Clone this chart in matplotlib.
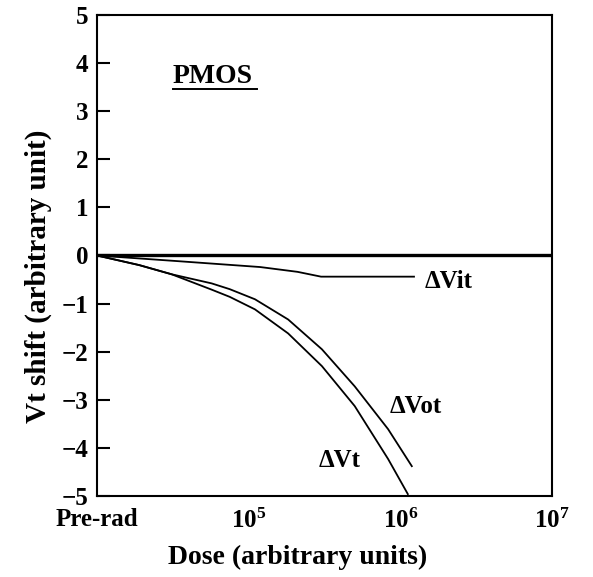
import matplotlib
matplotlib.use("Agg")
import matplotlib.pyplot as plt
import numpy as np

plt.rcParams['font.family'] = ['Liberation Serif', 'DejaVu Serif']
plt.rcParams['font.weight'] = 'bold'
plt.rcParams['mathtext.fontset'] = 'custom'
plt.rcParams['mathtext.rm'] = 'Liberation Serif:bold'
plt.rcParams['mathtext.bf'] = 'Liberation Serif:bold'

# ---- data ----
dose_vot = [1e4, 1.9e4, 3.1e4, 5.7e4, 7.5e4, 1.1e5, 1.82e5, 3.04e5, 5.0e5, 8.3e5, 1.19e6]
dvot = [0, -0.20, -0.39, -0.58, -0.70, -0.91, -1.33, -1.95, -2.72, -3.61, -4.38]

dose_vt = [1e4, 1.9e4, 3.1e4, 5.7e4, 7.5e4, 1.1e5, 1.82e5, 3.04e5, 5.0e5, 8.3e5, 1.12e6]
dvt = [0, -0.20, -0.39, -0.71, -0.86, -1.12, -1.62, -2.30, -3.13, -4.23, -4.96]

dose_vit = [1e4, 3.5e4, 1.19e5, 2.1e5, 3.0e5, 1.23e6]
dvit = [0, -0.12, -0.24, -0.34, -0.44, -0.44]

xticks = [1e4, 1e5, 1e6, 1e7]
xticklabels = ['Pre-rad', r'$\mathbf{10^{5}}$', r'$\mathbf{10^{6}}$', r'$\mathbf{10^{7}}$']
yticks = [5, 4, 3, 2, 1, 0, -1, -2, -3, -4, -5]

fig = plt.figure(figsize=(5.93, 5.77), dpi=100)
ax = fig.add_axes([0.1636, 0.1404, 0.7673, 0.8336])

ax.axhline(0, color='black', lw=2.4)
ax.plot(dose_vot, dvot, color='black', lw=1.3)
ax.plot(dose_vt, dvt, color='black', lw=1.3)
ax.plot(dose_vit, dvit, color='black', lw=1.3)

ax.set_xscale('log')
ax.set_xlim(1e4, 1e7)
ax.set_ylim(-5, 5)

ax.set_xticks(xticks)
ax.set_xticklabels(xticklabels, fontsize=18)
ax.xaxis.set_minor_locator(matplotlib.ticker.NullLocator())
ax.tick_params(axis='x', length=0, pad=9)
ax.set_yticks(yticks)
ax.set_yticklabels([str(v).replace('-', '\u2212') for v in yticks], fontsize=18)
ax.tick_params(axis='y', direction='in', length=9.5, width=1.5, pad=6)

for s in ax.spines.values():
    s.set_linewidth(1.5)

ax.set_xlabel('Dose (arbitrary units)', fontsize=20, fontweight='bold')
ax.xaxis.set_label_coords(0.44, -0.102)
ax.set_ylabel('Vt shift (arbitrary unit)', fontsize=21, fontweight='bold')
ax.yaxis.set_label_coords(-0.10, 0.457)

ax.text(1.45e6, -0.54, '\u0394Vit', fontsize=18, va='center', ha='left')
ax.text(8.5e5, -3.13, '\u0394Vot', fontsize=18, va='center', ha='left')
ax.text(2.87e5, -4.27, '\u0394Vt', fontsize=18, va='center', ha='left')

ax.text(0.167, 0.872, 'PMOS', fontsize=20, transform=ax.transAxes, ha='left', va='center')
ax.plot([0.167, 0.352], [0.846, 0.846], color='black', lw=1.4, transform=ax.transAxes)

fig.savefig('out.png', dpi=100)
